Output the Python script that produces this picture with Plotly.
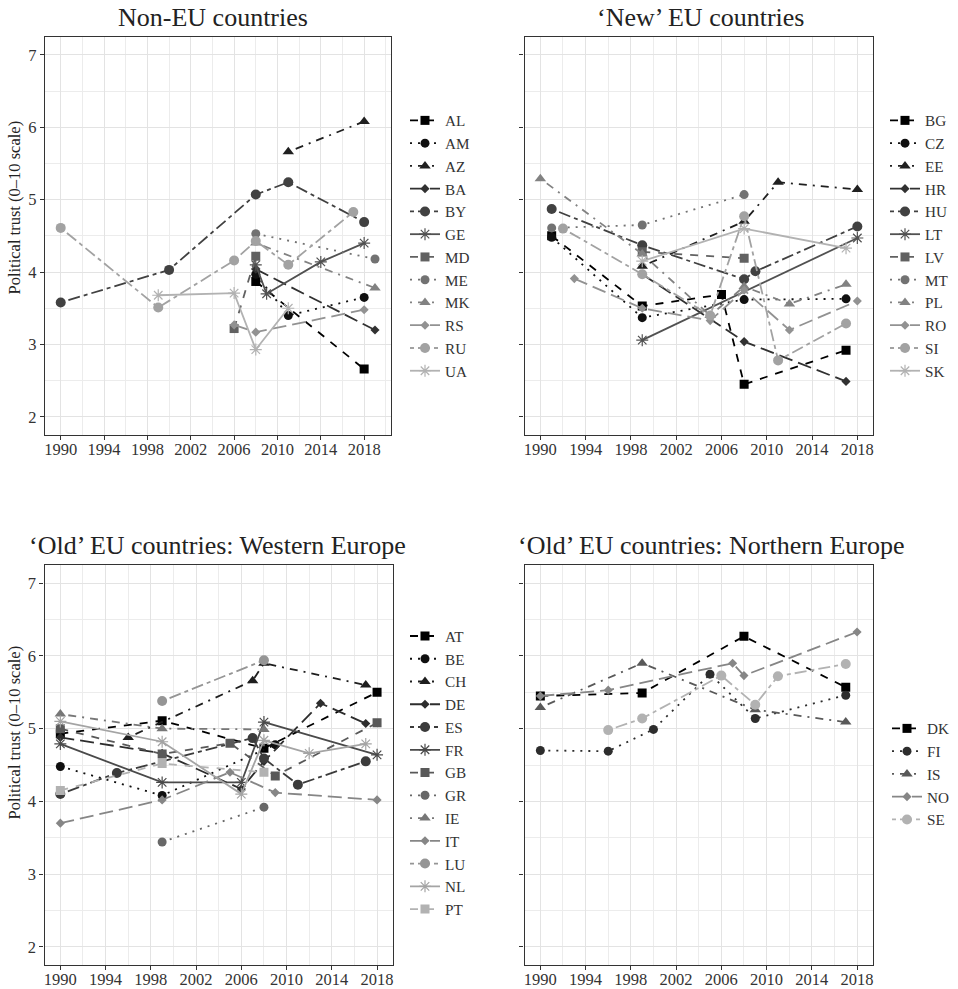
import plotly.graph_objects as go

# ---------------- data ----------------
titles = ["Non-EU countries", "\u2018New\u2019 EU countries",
          "\u2018Old\u2019 EU countries: Western Europe",
          "\u2018Old\u2019 EU countries: Northern Europe"]
y_title = "Political trust (0\u201310 scale)"
x_tick_vals = [1990, 1994, 1998, 2002, 2006, 2010, 2014, 2018]
y_tick_vals = [2, 3, 4, 5, 6, 7]

noneu_countries = ["AL", "AM", "AZ", "BA", "BY", "GE", "MD", "ME", "MK", "RS", "RU", "UA"]
noneu_years = [[2008, 2018], [2008, 2011, 2018], [2011, 2018], [2008, 2019],
               [1990, 2000, 2008, 2011, 2018], [2008, 2009, 2014, 2018], [2006, 2008],
               [2008, 2019], [2008, 2019], [2006, 2008, 2018],
               [1990, 1999, 2006, 2008, 2011, 2017], [1999, 2006, 2008, 2011]]
noneu_values = [[3.87, 2.66], [3.97, 3.40, 3.65], [5.66, 6.08], [4.04, 3.20],
                [3.58, 4.03, 5.07, 5.24, 4.69], [4.10, 3.70, 4.14, 4.40], [3.22, 4.22],
                [4.53, 4.18], [4.40, 3.78], [3.27, 3.17, 3.48],
                [4.61, 3.51, 4.16, 4.43, 4.10, 4.83], [3.68, 3.71, 2.93, 3.50]]

neweu_countries = ["BG", "CZ", "EE", "HR", "HU", "LT", "LV", "MT", "PL", "RO", "SI", "SK"]
neweu_years = [[1991, 1999, 2006, 2008, 2017], [1991, 1999, 2008, 2017],
               [1999, 2008, 2011, 2018], [1999, 2008, 2017],
               [1991, 1999, 2008, 2009, 2018], [1999, 2018], [1999, 2008],
               [1991, 1999, 2008], [1990, 1999, 2005, 2008, 2012, 2017],
               [1993, 1999, 2005, 2008, 2012, 2018],
               [1992, 1999, 2005, 2008, 2011, 2017], [1999, 2008, 2017]]
neweu_values = [[4.50, 3.53, 3.69, 2.45, 2.92], [4.48, 3.37, 3.62, 3.63],
                [4.08, 4.70, 5.24, 5.14], [3.97, 3.04, 2.49],
                [4.87, 4.37, 3.90, 4.01, 4.63], [3.06, 4.47], [4.28, 4.19],
                [4.61, 4.65, 5.07], [5.29, 4.25, 3.40, 3.80, 3.56, 3.83],
                [3.91, 3.50, 3.33, 3.75, 3.20, 3.60],
                [4.60, 3.97, 3.40, 4.77, 2.78, 3.29], [4.15, 4.60, 4.33]]

west_countries = ["AT", "BE", "CH", "DE", "ES", "FR", "GB", "GR", "IE", "IT", "LU", "NL", "PT"]
west_years = [[1990, 1999, 2008, 2018], [1990, 1999, 2009], [1996, 2007, 2008, 2017],
              [1990, 1999, 2006, 2008, 2013, 2017], [1990, 1995, 2007, 2008, 2011, 2017],
              [1990, 1999, 2006, 2008, 2018], [1990, 1999, 2005, 2009, 2018],
              [1999, 2008], [1990, 1999, 2008], [1990, 1999, 2005, 2009, 2018],
              [1999, 2008], [1990, 1999, 2006, 2008, 2012, 2017], [1990, 1999, 2008]]
west_values = [[4.93, 5.11, 4.73, 5.50], [4.48, 4.08, 4.78], [4.88, 5.66, 5.90, 5.60],
               [4.88, 4.66, 4.17, 4.55, 5.35, 5.07], [4.10, 4.39, 4.87, 4.59, 4.23, 4.55],
               [4.79, 4.26, 4.26, 5.09, 4.64], [5.00, 4.65, 4.80, 4.35, 5.08],
               [3.44, 3.92], [5.20, 5.00, 4.99], [3.70, 4.02, 4.40, 4.12, 4.02],
               [5.38, 5.94], [5.10, 4.82, 4.10, 4.84, 4.66, 4.79], [4.15, 4.52, 4.40]]

north_countries = ["DK", "FI", "IS", "NO", "SE"]
north_years = [[1990, 1999, 2008, 2017], [1990, 1996, 2000, 2005, 2009, 2017],
               [1990, 1999, 2009, 2017], [1990, 1996, 2007, 2008, 2018],
               [1996, 1999, 2006, 2009, 2011, 2017]]
north_values = [[5.45, 5.49, 6.27, 5.57], [4.70, 4.69, 4.99, 5.75, 5.14, 5.46],
                [5.29, 5.90, 5.26, 5.09], [5.45, 5.53, 5.90, 5.73, 6.33],
                [4.98, 5.14, 5.73, 5.33, 5.72, 5.89]]

# ---------------- styles ----------------
FONT = "Liberation Serif, DejaVu Serif, serif"
symbols = ["square", "circle", "triangle-up", "diamond", "circle", "asterisk-open"]
sizes = [9, 9, 10, 7, 10, 10]
dashes = ["8px,8px", "2px,6px", "2px,6px,8px,6px", "14px,6px", "4px,4px,12px,4px", "solid"]


def greys(n, start=0.0, end=0.70):
    out = []
    for i in range(n):
        v = start + (end - start) * (i / (n - 1) if n > 1 else 0)
        g = int(round(v * 255))
        out.append("rgb(%d,%d,%d)" % (g, g, g))
    return out


panels = [
    (noneu_countries, noneu_years, noneu_values, [1988.55, 2020.45]),
    (neweu_countries, neweu_years, neweu_values, [1988.6, 2019.4]),
    (west_countries, west_years, west_values, [1988.6, 2019.4]),
    (north_countries, north_years, north_values, [1988.6, 2019.4]),
]

W, H = 958, 989
dom_x = [(45, 390.7), (524.5, 873.2), (44.5, 392.9), (524.5, 872.9)]
dom_y = [(36.7, 435), (36.7, 435), (565.1, 964.9), (565.1, 964.9)]
legend_pos = [(405, 104), (885, 104), (405, 619.6), (887, 712)]
title_pos = [(213, 17), (700, 17), (217, 545), (711, 545)]

fig = go.Figure()
layout = dict(width=W, height=H, margin=dict(l=0, r=0, t=0, b=0, autoexpand=False),
              paper_bgcolor="white", plot_bgcolor="white",
              font=dict(family=FONT, color="#333333"), showlegend=True)
annotations = []

for p, (countries, years, values, xr) in enumerate(panels):
    sfx = "" if p == 0 else str(p + 1)
    leg = "legend" + sfx
    cols = greys(len(countries))
    for i, c in enumerate(countries):
        k = i % 6
        fig.add_trace(go.Scatter(
            x=years[i], y=values[i], name=c, mode="lines+markers",
            xaxis="x" + sfx, yaxis="y" + sfx, legend=leg,
            line=dict(color=cols[i], width=1.8, dash=dashes[k]),
            marker=dict(symbol=symbols[k], size=sizes[k], color=cols[i],
                        line=dict(width=1.2 if k == 5 else 0, color=cols[i])),
        ))
    x0, x1 = dom_x[p]
    yt, yb = dom_y[p]
    common = dict(showline=True, mirror=True, linecolor="#333333", linewidth=1.2,
                  ticks="outside", ticklen=4, tickcolor="#333333", tickwidth=1,
                  showgrid=True, gridcolor="#e3e3e3", gridwidth=1.2, zeroline=False,
                  tickfont=dict(family=FONT, size=16.5, color="#333333"))
    layout["xaxis" + sfx] = dict(
        domain=[x0 / W, x1 / W], range=xr, anchor="y" + sfx,
        tickmode="array", tickvals=x_tick_vals, ticklabelstandoff=-5,
        minor=dict(tickmode="linear", tick0=1990, dtick=2, showgrid=True,
                   gridcolor="#ececec", gridwidth=0.9, ticks=""),
        **common)
    layout["yaxis" + sfx] = dict(
        domain=[1 - yb / H, 1 - yt / H], range=[1.75, 7.25], anchor="x" + sfx,
        tickmode="array", tickvals=y_tick_vals, showticklabels=(p % 2 == 0),
        minor=dict(tickmode="linear", tick0=1.5, dtick=1, showgrid=True,
                   gridcolor="#ececec", gridwidth=0.9, ticks=""),
        **common)
    lx, ly = legend_pos[p]
    layout[leg] = dict(x=lx / W, y=1 - ly / H, xanchor="left", yanchor="top",
                       bgcolor="rgba(0,0,0,0)", borderwidth=0,
                       font=dict(family=FONT, size=15.2, color="#333333"))
    tx, ty = title_pos[p]
    annotations.append(dict(text=titles[p], x=tx / W, y=1 - ty / H, xref="paper", yref="paper",
                            xanchor="center", yanchor="middle", showarrow=False,
                            font=dict(family=FONT, size=26, color="#222222")))

for yc in (208, 733):
    annotations.append(dict(text=y_title, x=13.5 / W, y=1 - yc / H, xref="paper", yref="paper",
                            xanchor="center", yanchor="middle", textangle=-90, showarrow=False,
                            font=dict(family=FONT, size=16.5, color="#222222")))

layout["annotations"] = annotations
fig.update_layout(**layout)
fig.write_html("out.html", config={"displayModeBar": False},
               post_script="document.body.style.margin='0px';")
